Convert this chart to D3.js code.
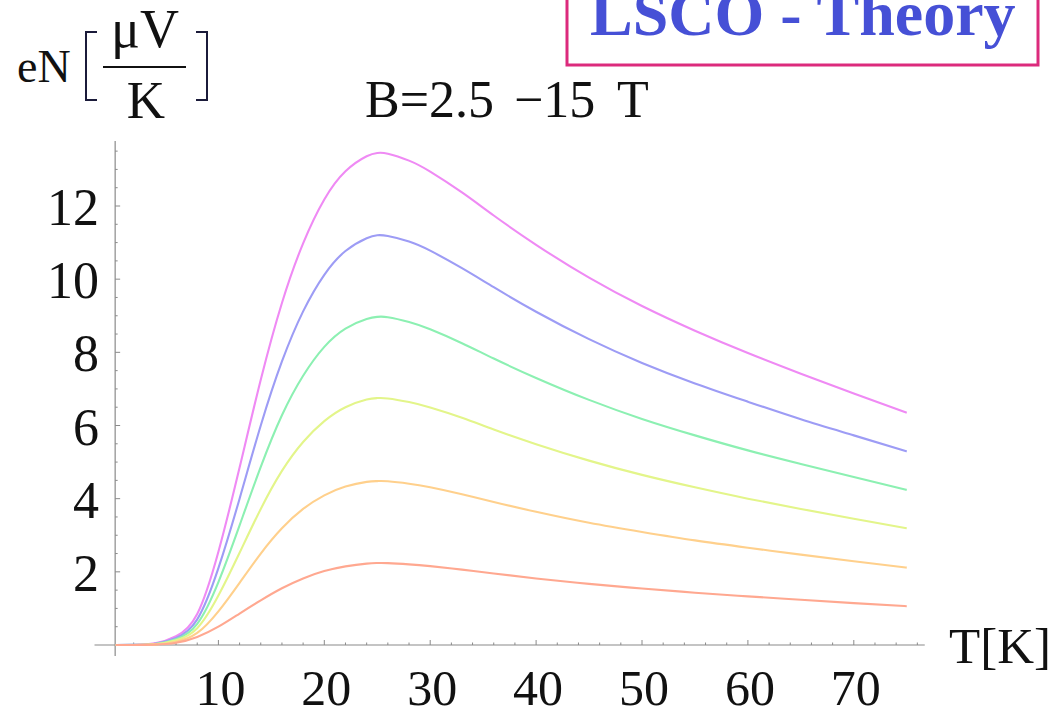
<!DOCTYPE html>
<html>
<head>
<meta charset="utf-8">
<script src="https://cdn.jsdelivr.net/npm/d3@7"></script>
<style>
  html, body { margin: 0; padding: 0; background: #fff; }
  svg { display: block; }
  text { font-family: "Liberation Serif", "DejaVu Serif", serif; fill: #111; }
</style>
</head>
<body>
<svg id="chart" width="1057" height="716"></svg>
<script>
// ---- data ----
const temperatures = [0.3, 2, 4, 6, 8, 10, 12, 14, 16, 18, 20, 22, 24, 25, 26, 28, 30, 33, 36, 40, 45, 50, 55, 60, 65, 70, 75];
const seriesNames = ["B=15 T", "B=12.5 T", "B=10 T", "B=7.5 T", "B=5 T", "B=2.5 T"];
const seriesColors = ["#ef8af4", "#9d9cf5", "#8cf0b2", "#e3f58a", "#ffd08c", "#ffa890"];
const b15  = [0, 0.005, 0.045, 0.24, 0.85, 2.55, 4.85, 7.25, 9.35, 10.98, 12.18, 12.95, 13.36, 13.45, 13.43, 13.24, 12.94, 12.37, 11.74, 10.94, 10.04, 9.265, 8.59, 7.98, 7.415, 6.875, 6.35];
const b125 = [0, 0.004, 0.035, 0.19, 0.70, 2.10, 4.00, 6.00, 7.75, 9.12, 10.12, 10.77, 11.12, 11.2, 11.18, 11.03, 10.78, 10.30, 9.78, 9.11, 8.36, 7.71, 7.15, 6.65, 6.17, 5.73, 5.29];
const b10  = [0, 0.003, 0.028, 0.16, 0.58, 1.72, 3.27, 4.87, 6.28, 7.36, 8.15, 8.65, 8.91, 8.97, 8.96, 8.83, 8.63, 8.25, 7.83, 7.30, 6.70, 6.18, 5.73, 5.32, 4.95, 4.59, 4.24];
const b75  = [0, 0.002, 0.022, 0.13, 0.46, 1.35, 2.52, 3.72, 4.76, 5.55, 6.12, 6.50, 6.71, 6.75, 6.74, 6.64, 6.49, 6.21, 5.89, 5.49, 5.04, 4.65, 4.31, 4.00, 3.72, 3.45, 3.19];
const b5   = [0, 0.002, 0.016, 0.09, 0.33, 0.92, 1.70, 2.50, 3.19, 3.72, 4.09, 4.33, 4.46, 4.48, 4.475, 4.41, 4.31, 4.12, 3.91, 3.64, 3.34, 3.09, 2.86, 2.66, 2.47, 2.29, 2.115];
const b25  = [0, 0.001, 0.01, 0.06, 0.22, 0.50, 0.86, 1.22, 1.55, 1.82, 2.02, 2.15, 2.225, 2.24, 2.238, 2.205, 2.155, 2.06, 1.955, 1.82, 1.67, 1.545, 1.43, 1.33, 1.235, 1.145, 1.06];
const seriesValues = [b15, b125, b10, b75, b5, b25];
const xTickValues = [10, 20, 30, 40, 50, 60, 70];
const yTickValues = [2, 4, 6, 8, 10, 12];
const titleParts = ["B=2.5", "\u221215", "T"];
const boxTitle = "LSCO - Theory";

// ---- scales ----
const svg = d3.select("#chart");
const x = d3.scaleLinear().domain([10, 70]).range([218.4, 853.8]);
const y = d3.scaleLinear().domain([0, 12]).range([645, 206]);
const axisColor = "#8a8a8a";
const xOrigin = 0.25;

// ---- x axis ----
const gx = svg.append("g");
gx.append("line").attr("x1", x(-1.7)).attr("x2", x(76.7)).attr("y1", y(0)).attr("y2", y(0))
  .attr("stroke", axisColor).attr("stroke-width", 1.2);
const xMinor = d3.range(2, 77, 2).filter(v => v % 10 !== 0);
gx.selectAll("line.xminor").data(xMinor).join("line").attr("class", "xminor")
  .attr("x1", d => x(d)).attr("x2", d => x(d)).attr("y1", y(0)).attr("y2", y(0) - 2.5)
  .attr("stroke", axisColor).attr("stroke-width", 1);
gx.selectAll("line.xmajor").data(xTickValues).join("line").attr("class", "xmajor")
  .attr("x1", d => x(d)).attr("x2", d => x(d)).attr("y1", y(0)).attr("y2", y(0) - 5)
  .attr("stroke", axisColor).attr("stroke-width", 1);
gx.selectAll("text").data(xTickValues).join("text")
  .attr("x", d => x(d) + 2).attr("y", 705).attr("text-anchor", "middle")
  .attr("font-size", 50).text(d => d);
svg.append("text").attr("x", 949).attr("y", 663).attr("font-size", 51).text("T[K]");

// ---- y axis ----
const gy = svg.append("g");
gy.append("line").attr("x1", x(xOrigin)).attr("x2", x(xOrigin)).attr("y1", y(-0.3)).attr("y2", y(13.78))
  .attr("stroke", axisColor).attr("stroke-width", 1.2);
const yMinor = d3.range(0.5, 13.6, 0.5).filter(v => v % 2 !== 0);
gy.selectAll("line.yminor").data(yMinor).join("line").attr("class", "yminor")
  .attr("x1", x(xOrigin)).attr("x2", x(xOrigin) + 2.5).attr("y1", d => y(d)).attr("y2", d => y(d))
  .attr("stroke", axisColor).attr("stroke-width", 1);
gy.selectAll("line.ymajor").data(yTickValues).join("line").attr("class", "ymajor")
  .attr("x1", x(xOrigin)).attr("x2", x(xOrigin) + 5).attr("y1", d => y(d)).attr("y2", d => y(d))
  .attr("stroke", axisColor).attr("stroke-width", 1);
gy.selectAll("text").data(yTickValues).join("text")
  .attr("x", 99).attr("y", d => y(d) + 19).attr("text-anchor", "end")
  .attr("font-size", 52).text(d => d);

// ---- curves ----
const line = d3.line().x(d => x(d[0])).y(d => y(d[1])).curve(d3.curveNatural);
seriesValues.forEach((vals, i) => {
  const pts = temperatures.map((t, j) => [t, vals[j]]);
  svg.append("path").datum(pts).attr("d", line)
    .attr("fill", "none").attr("stroke", seriesColors[i]).attr("stroke-width", 2.1)
    .attr("stroke-linejoin", "round").append("title").text(seriesNames[i]);
});

// ---- title ----
svg.append("text").attr("x", 365).attr("y", 117).attr("font-size", 52).text(titleParts[0]);
svg.append("text").attr("x", 514).attr("y", 117).attr("font-size", 52).text(titleParts[1]);
svg.append("text").attr("x", 617).attr("y", 117).attr("font-size", 52).text(titleParts[2]);

// ---- y label eN[μV/K] ----
svg.append("text").attr("x", 17).attr("y", 82).attr("font-size", 46).text("eN");
const brk = svg.append("g").attr("stroke", "#1b1b3a").attr("stroke-width", 2).attr("fill", "none");
brk.append("path").attr("d", "M97,32 L86,32 L86,100 L97,100");
brk.append("path").attr("d", "M196,32 L207,32 L207,100 L196,100");
svg.append("text").attr("x", 145).attr("y", 47).attr("text-anchor", "middle").attr("font-size", 54).text("\u03BCV");
svg.append("line").attr("x1", 103).attr("x2", 186).attr("y1", 67).attr("y2", 67).attr("stroke", "#111").attr("stroke-width", 2);
svg.append("text").attr("x", 146).attr("y", 118).attr("text-anchor", "middle").attr("font-size", 53).text("K");

// ---- boxed label ----
svg.append("rect").attr("x", 567).attr("y", -10).attr("width", 471).attr("height", 75)
  .attr("fill", "none").attr("stroke", "#dc2a7c").attr("stroke-width", 3);
svg.append("text").attr("x", 590).attr("y", 35).attr("font-size", 64).attr("font-weight", "bold")
  .style("fill", "#4650d6").text(boxTitle);
</script>
</body>
</html>
